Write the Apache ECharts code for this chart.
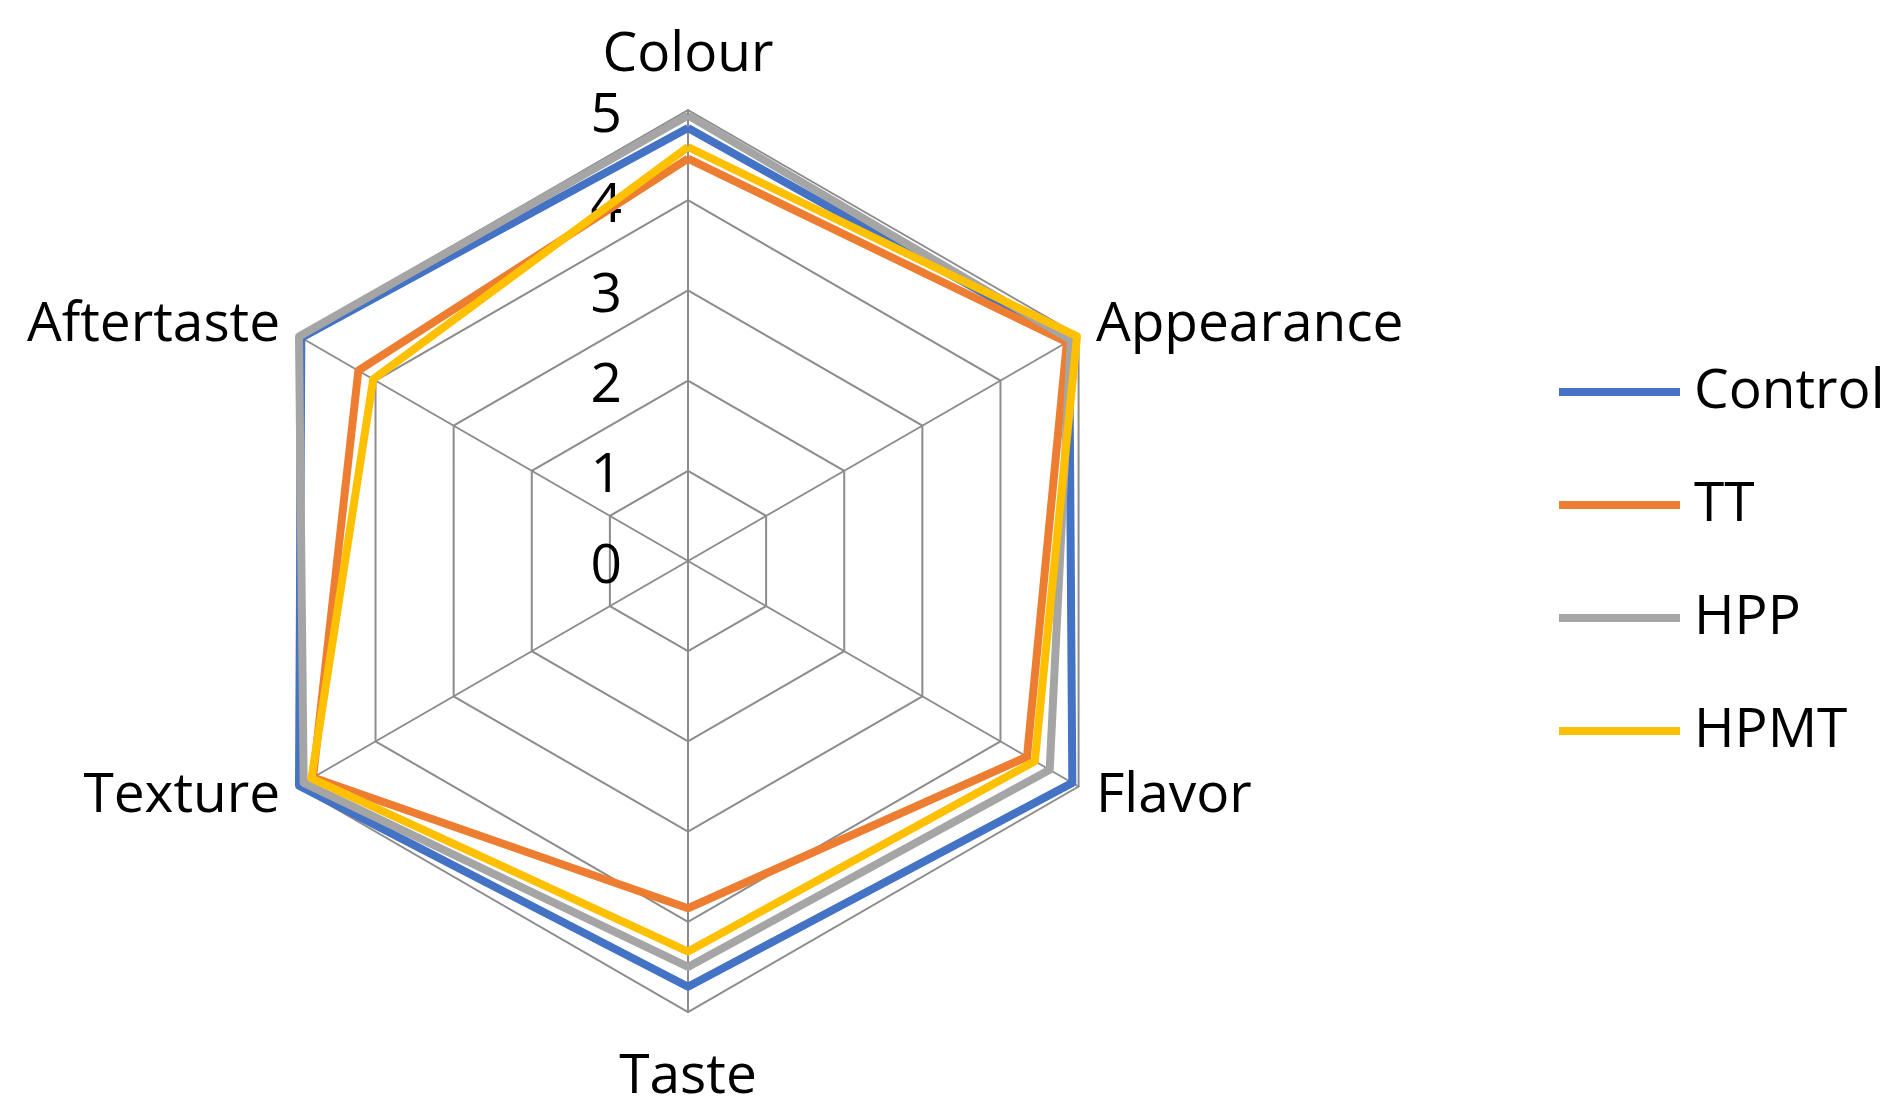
<!DOCTYPE html>
<html>
<head>
<meta charset="utf-8">
<script src="https://cdn.jsdelivr.net/npm/echarts@6/dist/echarts.min.js"></script>
<style>
  html, body { margin: 0; padding: 0; background: #fff; }
  #chart { width: 1903px; height: 1111px; }
</style>
</head>
<body>
<div id="chart"></div>
<script>
  // categories in clockwise order, starting at the top
  var categories = ['Colour', 'Appearance', 'Flavor', 'Taste', 'Texture', 'Aftertaste'];
  var seriesNames = ['Control', 'TT', 'HPP', 'HPMT'];
  var control = [4.80, 4.88, 4.92, 4.72, 4.98, 4.95];
  var tt      = [4.46, 4.85, 4.34, 3.85, 4.80, 4.22];
  var hpp     = [4.94, 4.90, 4.63, 4.50, 4.92, 4.98];
  var hpmt    = [4.59, 4.98, 4.44, 4.33, 4.82, 4.03];
  var tickLabels = ['0', '1', '2', '3', '4', '5'];
  var colors = ['#4472C4', '#ED7D31', '#A5A5A5', '#FFC000'];

  // echarts lays radar indicators out counter-clockwise, so flip the tail
  function ccw(a) {
    return [a[0]].concat(a.slice(1).reverse());
  }

  var font = '"Open Sans", sans-serif';
  var fs = 55;
  var indicator = ccw(categories).map(function (name, i) {
    var ind = { name: name, min: 0, max: 5 };
    if (i === 0) {
      ind.axisLabel = {
        show: true,
        margin: 66,
        color: '#000',
        fontSize: fs,
        fontFamily: font,
        formatter: function (v) { return '{t|' + tickLabels[Math.round(v)] + '}'; },
        rich: {
          t: { color: '#000', fontSize: fs, fontFamily: font, padding: [12, 0, 0, 0] }
        }
      };
    }
    return ind;
  });

  var allData = [control, tt, hpp, hpmt];
  var series = [{
    type: 'radar',
    symbol: 'none',
    data: allData.map(function (vals, i) {
      return {
        name: seriesNames[i],
        value: ccw(vals),
        lineStyle: { color: colors[i], width: 8 },
        itemStyle: { color: colors[i] }
      };
    })
  }];

  var myCharts = echarts.init(document.getElementById('chart'));
  var option = {
    animation: false,
    color: colors,
    legend: {
      orient: 'vertical',
      left: 1559,
      top: 362,
      padding: 0,
      icon: 'rect',
      itemWidth: 121,
      itemHeight: 8,
      itemGap: 53,
      data: seriesNames,
      textStyle: {
        color: '#000',
        fontSize: fs,
        fontFamily: font,
        lineHeight: 60,
        padding: [0, 0, 0, 9]
      }
    },
    radar: {
      center: [688, 561],
      radius: 451,
      startAngle: 90,
      shape: 'polygon',
      splitNumber: 5,
      indicator: indicator,
      axisName: {
        color: '#000',
        fontSize: fs,
        fontFamily: font,
        // top and bottom labels sit a little further off the axis ends
        formatter: function (name) {
          if (name === 'Taste') return '{low|' + name + '}';
          if (name === 'Colour') return '{high|' + name + '}';
          return name;
        },
        rich: {
          low: { color: '#000', fontSize: fs, fontFamily: font, padding: [18, 0, 0, 0] },
          high: { color: '#000', fontSize: fs, fontFamily: font, padding: [0, 0, 7, 0] }
        }
      },
      nameGap: 20,
      axisLine: { lineStyle: { color: '#8c8c8c', width: 2 } },
      axisTick: { show: false },
      axisLabel: { show: false },
      splitLine: { lineStyle: { color: '#8c8c8c', width: 2 } },
      splitArea: { show: false }
    },
    series: series
  };
  myCharts.setOption(option);
</script>
</body>
</html>
